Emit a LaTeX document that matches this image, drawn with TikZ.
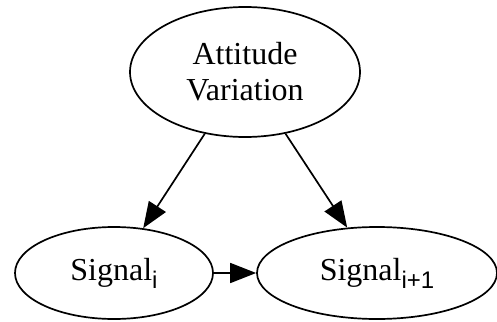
\documentclass[tikz,border=0pt]{standalone}
\usepackage{fontspec}
\setmainfont{Liberation Serif}
\newfontfamily\subsans{Liberation Sans}
\usetikzlibrary{shapes.geometric,arrows.meta}
\newcommand{\sgsub}[1]{\raisebox{-8pt}{\fontsize{24}{24}\subsans #1}}
\begin{document}
\begin{tikzpicture}[x=1pt,y=-1pt,
  ell/.style={ellipse, draw, line width=1.7pt, inner sep=0pt,
    font=\fontsize{32}{36}\selectfont, align=center},
  arr/.style={line width=1.7pt, -{Triangle[length=26pt,width=20pt]}}]
\useasboundingbox (0,0) rectangle (497,321);
\node[ell, minimum width=230pt, minimum height=130pt] (av) at (245,72) {Attitude\\Variation};
\node[ell, minimum width=198pt, minimum height=92pt] (si) at (114,273) {Signal\sgsub{i}};
\node[ell, minimum width=240pt, minimum height=92pt] (sj) at (377,273) {Signal\sgsub{i+1}};
\draw[arr] (av) -- (si);
\draw[arr] (av) -- (sj);
\draw[arr] (si) -- (sj);
\end{tikzpicture}
\end{document}
